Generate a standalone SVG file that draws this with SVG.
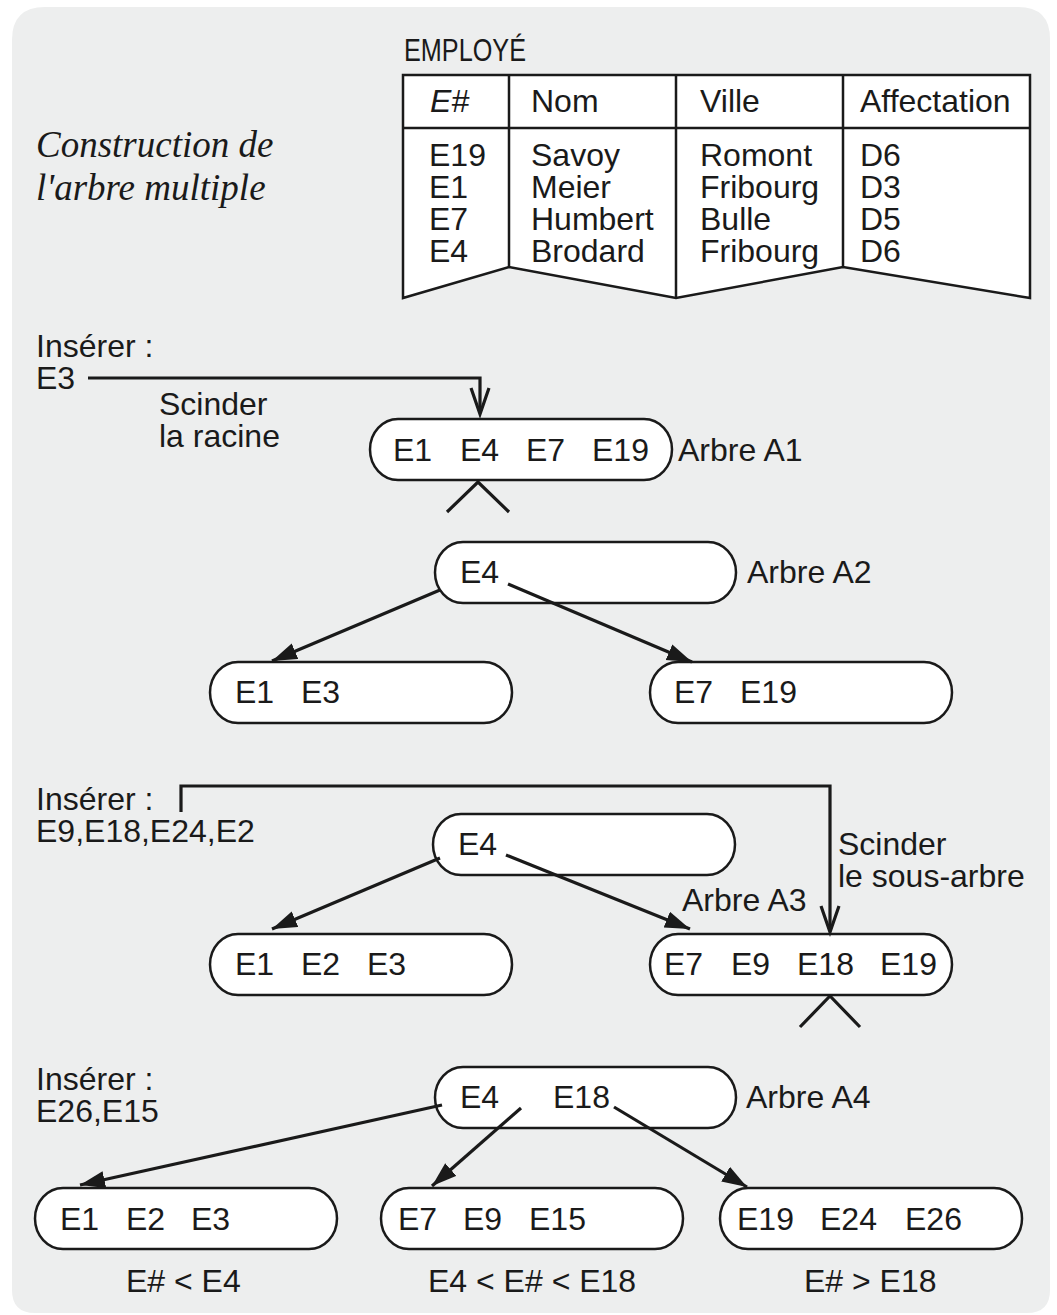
<svg xmlns="http://www.w3.org/2000/svg" width="1057" height="1315" viewBox="0 0 1057 1315">
<style>
.t{font-family:"Liberation Sans",Arial,sans-serif;font-size:32px;fill:#1a1a1a}
.ti{font-family:"Liberation Serif","Times New Roman",serif;font-style:italic;font-size:37px;fill:#1a1a1a}
.n{fill:#fff;stroke:#1a1a1a;stroke-width:2.5}
.ln{fill:none;stroke:#1a1a1a;stroke-width:3.2}
.tb{fill:#fff;stroke:#1a1a1a;stroke-width:2.5}
</style>
<defs>
<marker id="ah" markerUnits="userSpaceOnUse" markerWidth="28" markerHeight="20" refX="25" refY="8.5" orient="auto">
<path d="M0,0 L25,8.5 L0,17 z" fill="#1a1a1a"/>
</marker>
</defs>
<path d="M45,7 H1018 Q1050,7 1050,39 V1290 Q1050,1313 1027,1313 H35 Q12,1313 12,1290 V40 Q12,7 45,7 z" fill="#edeeee"/>
<g id="title">
<text class="ti" x="36" y="157">Construction de</text>
<text class="ti" x="36" y="200">l'arbre multiple</text>
</g>
<g id="table">
<text class="t" x="404" y="61" style="font-size:31px" textLength="122" lengthAdjust="spacingAndGlyphs">EMPLOYÉ</text>
<path class="tb" d="M403,75 H1030 V298 L843,267 L676,298 L509,267 L403,298 z"/>
<path class="ln" style="stroke-width:2.5" d="M403,128 H1030 M509,75 V267 M676,75 V298 M843,75 V267"/>
<text class="t" x="430" y="112" font-style="italic">E#</text>
<text class="t" x="531" y="112">Nom</text>
<text class="t" x="700" y="112">Ville</text>
<text class="t" x="860" y="112">Affectation</text>
<text class="t" x="429" y="166">E19</text>
<text class="t" x="429" y="198">E1</text>
<text class="t" x="429" y="230">E7</text>
<text class="t" x="429" y="262">E4</text>
<text class="t" x="531" y="166">Savoy</text>
<text class="t" x="531" y="198">Meier</text>
<text class="t" x="531" y="230">Humbert</text>
<text class="t" x="531" y="262">Brodard</text>
<text class="t" x="700" y="166">Romont</text>
<text class="t" x="700" y="198">Fribourg</text>
<text class="t" x="700" y="230">Bulle</text>
<text class="t" x="700" y="262">Fribourg</text>
<text class="t" x="860" y="166">D6</text>
<text class="t" x="860" y="198">D3</text>
<text class="t" x="860" y="230">D5</text>
<text class="t" x="860" y="262">D6</text>
</g>
<g id="labels">
<text class="t" x="36" y="357">Insérer :</text>
<text class="t" x="36" y="389">E3</text>
<text class="t" x="159" y="415">Scinder</text>
<text class="t" x="159" y="447">la racine</text>
<text class="t" x="678" y="461">Arbre A1</text>
<text class="t" x="747" y="583">Arbre A2</text>
<text class="t" x="36" y="810">Insérer :</text>
<text class="t" x="36" y="842">E9,E18,E24,E2</text>
<text class="t" x="838" y="855">Scinder</text>
<text class="t" x="838" y="887">le sous-arbre</text>
<text class="t" x="682" y="911">Arbre A3</text>
<text class="t" x="36" y="1090">Insérer :</text>
<text class="t" x="36" y="1122">E26,E15</text>
<text class="t" x="746" y="1108">Arbre A4</text>
<text class="t" x="126" y="1292">E# &lt; E4</text>
<text class="t" x="428" y="1292">E4 &lt; E# &lt; E18</text>
<text class="t" x="804" y="1292">E# &gt; E18</text>
</g>
<g id="A1">
<rect class="n" x="370" y="419" width="302" height="61" rx="28" ry="30.5"/>
<text class="t" x="393" y="461">E1</text>
<text class="t" x="460" y="461">E4</text>
<text class="t" x="526" y="461">E7</text>
<text class="t" x="592" y="461">E19</text>
</g>
<g id="A2">
<rect class="n" x="435" y="542" width="301" height="61" rx="28" ry="30.5"/>
<text class="t" x="460" y="583">E4</text>
</g>
<g id="A2L">
<rect class="n" x="210" y="662" width="302" height="61" rx="28" ry="30.5"/>
<text class="t" x="235" y="703">E1</text>
<text class="t" x="301" y="703">E3</text>
</g>
<g id="A2R">
<rect class="n" x="650" y="662" width="302" height="61" rx="28" ry="30.5"/>
<text class="t" x="674" y="703">E7</text>
<text class="t" x="740" y="703">E19</text>
</g>
<g id="A3">
<rect class="n" x="433" y="814" width="302" height="61" rx="28" ry="30.5"/>
<text class="t" x="458" y="855">E4</text>
</g>
<g id="A3L">
<rect class="n" x="210" y="934" width="302" height="61" rx="28" ry="30.5"/>
<text class="t" x="235" y="975">E1</text>
<text class="t" x="301" y="975">E2</text>
<text class="t" x="367" y="975">E3</text>
</g>
<g id="A3R">
<rect class="n" x="650" y="934" width="302" height="61" rx="28" ry="30.5"/>
<text class="t" x="664" y="975">E7</text>
<text class="t" x="731" y="975">E9</text>
<text class="t" x="797" y="975">E18</text>
<text class="t" x="880" y="975">E19</text>
</g>
<g id="A4">
<rect class="n" x="435" y="1067" width="301" height="61" rx="28" ry="30.5"/>
<text class="t" x="460" y="1108">E4</text>
<text class="t" x="553" y="1108">E18</text>
</g>
<g id="A4L">
<rect class="n" x="35" y="1188" width="302" height="61" rx="28" ry="30.5"/>
<text class="t" x="60" y="1230">E1</text>
<text class="t" x="126" y="1230">E2</text>
<text class="t" x="191" y="1230">E3</text>
</g>
<g id="A4M">
<rect class="n" x="381" y="1188" width="302" height="61" rx="28" ry="30.5"/>
<text class="t" x="398" y="1230">E7</text>
<text class="t" x="463" y="1230">E9</text>
<text class="t" x="529" y="1230">E15</text>
</g>
<g id="A4R">
<rect class="n" x="720" y="1188" width="302" height="61" rx="28" ry="30.5"/>
<text class="t" x="737" y="1230">E19</text>
<text class="t" x="820" y="1230">E24</text>
<text class="t" x="905" y="1230">E26</text>
</g>
<g id="connectors">
<polyline class="ln" points="88,378 480,378 480,413"/>
<polyline class="ln" points="471,388 480,414 489,388"/>
<polyline class="ln" points="447,512 478,482 509,512"/>
<line class="ln" x1="440" y1="590" x2="272" y2="661" marker-end="url(#ah)"/>
<line class="ln" x1="508" y1="584" x2="692" y2="662" marker-end="url(#ah)"/>
<polyline class="ln" points="181,812 181,786 830,786 830,931"/>
<polyline class="ln" points="821,906 830,932 839,906"/>
<line class="ln" x1="440" y1="858" x2="272" y2="929" marker-end="url(#ah)"/>
<line class="ln" x1="506" y1="855" x2="690" y2="929" marker-end="url(#ah)"/>
<polyline class="ln" points="800,1027 830,996 860,1027"/>
<line class="ln" x1="442" y1="1105" x2="80" y2="1185" marker-end="url(#ah)"/>
<line class="ln" x1="521" y1="1108" x2="432" y2="1186" marker-end="url(#ah)"/>
<line class="ln" x1="614" y1="1107" x2="747" y2="1187" marker-end="url(#ah)"/>
</g>
</svg>
